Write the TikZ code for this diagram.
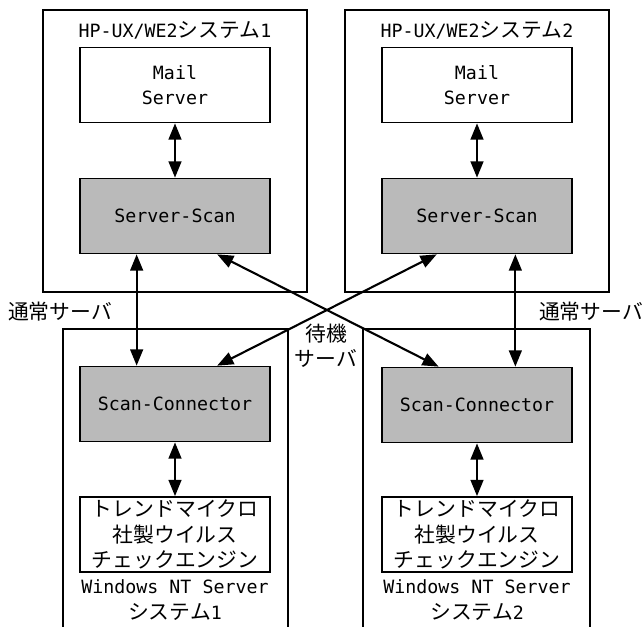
\documentclass[tikz,border=0pt]{standalone}
\usepackage{fontspec}
\setmainfont{Noto Sans CJK JP}
\setmonofont{DejaVu Sans Mono}
\usetikzlibrary{arrows.meta,calc}

\tikzset{
  sysbox/.style={draw=black,line width=1.1pt,inner sep=0pt},
  unitbox/.style={draw=black,line width=1.2pt,minimum width=4.75cm,minimum height=1.875cm,
    inner sep=0pt,align=center},
  scanbox/.style={unitbox,fill=black!27},
  biarrow/.style={{Triangle[length=11.5pt,width=9pt]}-{Triangle[length=11.5pt,width=9pt]},line width=1.5pt},
  lbl/.style={inner sep=0pt,align=center}
}
\newcommand{\hk}[1]{{\ttfamily\fontsize{13}{17.7}\selectfont #1}}

\begin{document}
\begin{tikzpicture}[x=0.025cm,y=-0.025cm,font=\fontsize{14.8}{18}\selectfont]
  \clip (0,0) rectangle (643,626);
  % HP-UX side
  \node[sysbox,minimum width=6.6cm,minimum height=7.05cm] (sys1) at (175,151) {};
  \node[sysbox,minimum width=6.6cm,minimum height=7.05cm] (sys2) at (477,151) {};
  \node[lbl] (title1) at (175,30) {\hk{HP-UX/WE2}システム\hk{1}};
  \node[lbl] (title2) at (477,30) {\hk{HP-UX/WE2}システム\hk{2}};
  \node[unitbox] (mail1) at (175,85) {\hk{Mail}\\\hk{Server}};
  \node[unitbox] (mail2) at (477,85) {\hk{Mail}\\\hk{Server}};
  \node[scanbox] (scan1) at (175,216) {\hk{Server-Scan}};
  \node[scanbox] (scan2) at (477,216) {\hk{Server-Scan}};
  % Windows NT side
  \node[sysbox,minimum width=5.625cm,minimum height=7.8cm] (win1) at (175.5,485) {};
  \node[sysbox,minimum width=5.675cm,minimum height=7.8cm] (win2) at (476.5,485) {};
  \node[scanbox] (conn1) at (175,404) {\hk{Scan-Connector}};
  \node[scanbox] (conn2) at (477,405) {\hk{Scan-Connector}};
  \node[unitbox] (trend1) at (175,534.5) {トレンドマイクロ\\社製ウイルス\\チェックエンジン};
  \node[unitbox] (trend2) at (477,534.5) {トレンドマイクロ\\社製ウイルス\\チェックエンジン};
  \node[lbl] (os1) at (175,600) {\hk{Windows NT Server}\\システム\hk{1}};
  \node[lbl] (os2) at (477,600) {\hk{Windows NT Server}\\システム\hk{2}};
  % labels
  \node[lbl] (normal1) at (60,312) {通常サーバ};
  \node[lbl] (normal2) at (591,312) {通常サーバ};
  \node[lbl] (standby) at (326,346) {待機\\サーバ};
  % arrows
  \draw[biarrow] (mail1) -- (scan1);
  \draw[biarrow] (mail2) -- (scan2);
  \draw[biarrow] (trend1) -- (conn1);
  \draw[biarrow] (trend2) -- (conn2);
  \draw[biarrow] ($(scan1.south west)!0.3!(scan1.south east)$) -- ($(conn1.north west)!0.3!(conn1.north east)$);
  \draw[biarrow] ($(scan2.south west)!0.7!(scan2.south east)$) -- ($(conn2.north west)!0.7!(conn2.north east)$);
  \draw[biarrow] ($(scan1.south west)!0.72!(scan1.south east)$) -- ($(conn2.north west)!0.3!(conn2.north east)$);
  \draw[biarrow] ($(conn1.north west)!0.72!(conn1.north east)$) -- ($(scan2.south west)!0.29!(scan2.south east)$);
\end{tikzpicture}
\end{document}
